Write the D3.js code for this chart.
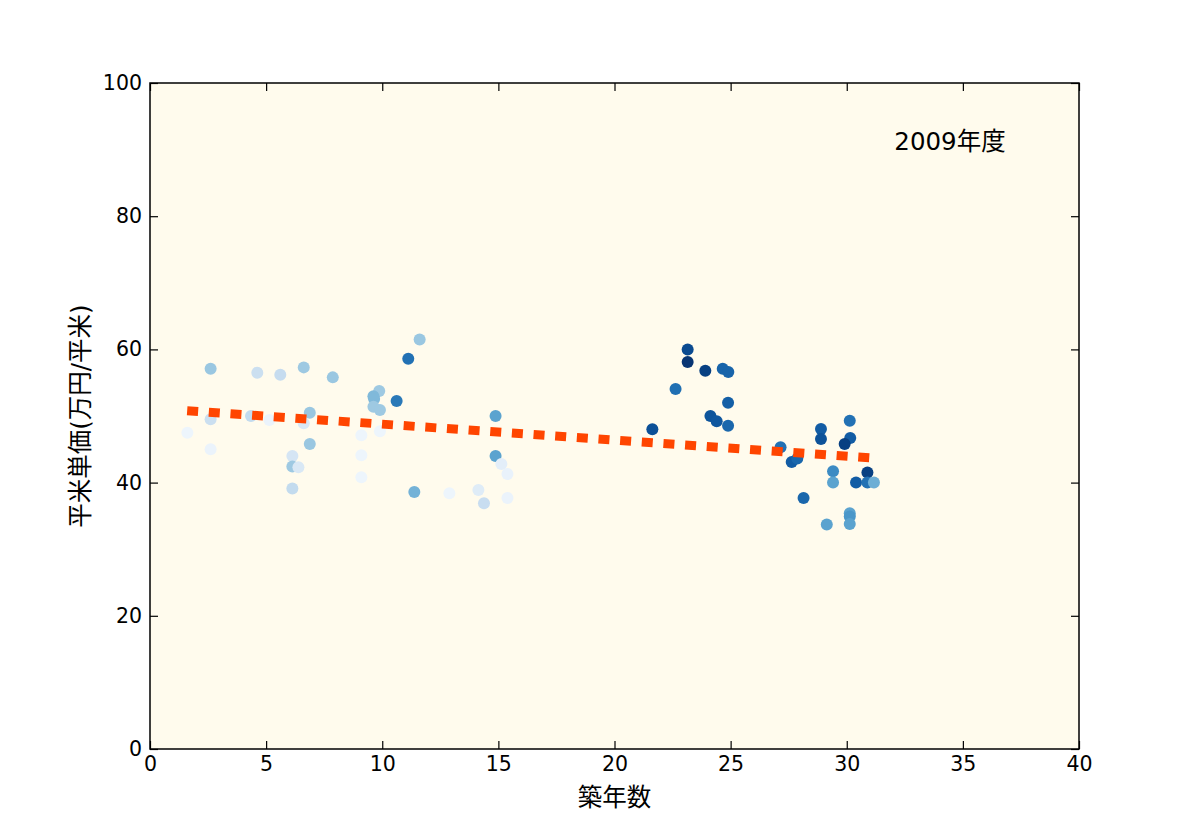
<!DOCTYPE html>
<html>
<head>
<meta charset="utf-8">
<script src="https://cdn.jsdelivr.net/npm/d3@7"></script>
<style>
  body { margin: 0; background: #fff; }
  svg { display: block; }
</style>
</head>
<body>
<div id="chart"></div>
<script>
// 築年数 (years since construction)
const ageYears = [
    2.61, 4.62, 5.61, 6.62, 7.87, 6.88, 2.61, 4.35, 5.14, 6.62,
    1.61, 2.61, 6.88, 6.13, 6.13, 6.39, 6.13, 11.61, 11.12, 9.87,
    9.62, 9.65, 10.62, 9.62, 9.9, 14.88, 9.1, 9.9, 9.1, 9.1,
    14.88, 15.13, 15.39, 11.38, 12.89, 14.14, 14.38, 15.39,
    23.15, 23.15, 23.91, 24.66, 24.9, 22.63, 24.89, 24.13, 24.4, 24.89,
    21.63, 27.15, 30.13, 28.89, 28.89, 30.15, 29.91, 27.63, 27.87, 29.41,
    29.41, 30.4, 30.89, 30.89, 31.17, 28.14, 30.13, 30.13, 30.13, 29.14
];
// 平米単価 (万円/平米)
const unitPrices = [
    57.1, 56.5, 56.2, 57.3, 55.8, 50.5, 49.5, 50.0, 49.4, 48.9,
    47.5, 45.0, 45.8, 44.0, 42.4, 42.3, 39.1, 61.5, 58.6, 53.75,
    52.95, 52.55, 52.25, 51.4, 50.9, 50.0, 47.1, 47.7, 44.1, 40.8,
    44.0, 42.8, 41.3, 38.6, 38.4, 38.9, 36.9, 37.7,
    60.0, 58.1, 56.8, 57.1, 56.6, 54.05, 52.0, 50.0, 49.2, 48.55,
    48.0, 45.3, 49.3, 48.05, 46.55, 46.7, 45.8, 43.1, 43.6, 41.7,
    40.0, 40.0, 41.5, 40.0, 40.0, 37.7, 35.4, 34.9, 33.8, 33.7
];
// colour level of each point on the Blues scale (0..1)
const colorLevels = [
    0.38, 0.22, 0.24, 0.37, 0.38, 0.38, 0.22, 0.25, 0.06, 0.15,
    0.05, 0.06, 0.38, 0.17, 0.37, 0.15, 0.25, 0.38, 0.75, 0.37,
    0.45, 0.45, 0.72, 0.37, 0.37, 0.55, 0.05, 0.05, 0.05, 0.05,
    0.55, 0.10, 0.07, 0.48, 0.05, 0.12, 0.23, 0.06,
    0.90, 0.98, 0.94, 0.80, 0.80, 0.76, 0.82, 0.86, 0.85, 0.79,
    0.88, 0.75, 0.75, 0.83, 0.87, 0.83, 0.94, 0.83, 0.79, 0.65,
    0.55, 0.83, 0.94, 0.75, 0.50, 0.79, 0.55, 0.60, 0.55, 0.55
];
// regression line end points
const trendX = [1.6, 31.1];
const trendY = [50.8, 43.7];

const xTicks = [0, 5, 10, 15, 20, 25, 30, 35, 40];
const yTicks = [0, 20, 40, 60, 80, 100];
const yearLabel = "2009年度";

const width = 1200;
const height = 833;
const marginTop = 83;
const marginRight = 121;
const marginBottom = 84;
const marginLeft = 150;
const fontFamily = "'DejaVu Sans', 'Noto Sans CJK JP', sans-serif";

const x = d3.scaleLinear()
    .domain([0, 40])
    .range([marginLeft, width - marginRight]);

const y = d3.scaleLinear()
    .domain([0, 100])
    .range([height - marginBottom, marginTop]);

const svg = d3.select("#chart").append("svg")
    .attr("width", width)
    .attr("height", height)
    .attr("viewBox", [0, 0, width, height])
    .attr("style", `font-family: ${fontFamily};`);

// fond du graphique
svg.append("rect")
    .attr("x", marginLeft)
    .attr("y", marginTop)
    .attr("width", width - marginRight - marginLeft)
    .attr("height", height - marginBottom - marginTop)
    .attr("fill", "#fffbed");

// points
const points = ageYears.map((a, i) => ({age: a, price: unitPrices[i], level: colorLevels[i]}));
svg.append("g")
    .selectAll("circle")
    .data(points)
    .join("circle")
    .attr("cx", d => x(d.age))
    .attr("cy", d => y(d.price))
    .attr("r", 6)
    .attr("fill", d => d3.interpolateBlues(d.level));

// ligne de tendance
svg.append("path")
    .datum(trendX.map((v, i) => [v, trendY[i]]))
    .attr("fill", "none")
    .attr("stroke", "#ff4500")
    .attr("stroke-width", 9)
    .attr("stroke-dasharray", "11,10.7")
    .attr("d", d3.line().x(d => x(d[0])).y(d => y(d[1])));

// axes : ticks vers l'intérieur sur les quatre côtés
const tickLen = 8;
svg.append("g")
    .attr("transform", `translate(0,${height - marginBottom})`)
    .call(d3.axisBottom(x).tickValues(xTicks).tickSize(-tickLen).tickPadding(7))
    .call(g => g.select(".domain").remove())
    .call(g => g.selectAll("text").attr("font-size", 20.5).attr("font-family", fontFamily).attr("fill", "#000"));

svg.append("g")
    .attr("transform", `translate(0,${marginTop})`)
    .call(d3.axisTop(x).tickValues(xTicks).tickSize(-tickLen).tickFormat(""))
    .call(g => g.select(".domain").remove());

svg.append("g")
    .attr("transform", `translate(${marginLeft},0)`)
    .call(d3.axisLeft(y).tickValues(yTicks).tickSize(-tickLen).tickPadding(8))
    .call(g => g.select(".domain").remove())
    .call(g => g.selectAll("text").attr("font-size", 20.5).attr("font-family", fontFamily).attr("fill", "#000"));

svg.append("g")
    .attr("transform", `translate(${width - marginRight},0)`)
    .call(d3.axisRight(y).tickValues(yTicks).tickSize(-tickLen).tickFormat(""))
    .call(g => g.select(".domain").remove());

svg.selectAll(".tick line").attr("stroke", "#000").attr("stroke-width", 1.2);

// cadre
svg.append("rect")
    .attr("x", marginLeft)
    .attr("y", marginTop)
    .attr("width", width - marginRight - marginLeft)
    .attr("height", height - marginBottom - marginTop)
    .attr("fill", "none")
    .attr("stroke", "#000")
    .attr("stroke-width", 1.5);

// libellés des axes
svg.append("text")
    .attr("x", (marginLeft + width - marginRight) / 2)
    .attr("y", 806)
    .attr("text-anchor", "middle")
    .attr("font-size", 24.5)
    .text("築年数");

svg.append("text")
    .attr("transform", `translate(89,${(marginTop + height - marginBottom) / 2}) rotate(-90)`)
    .attr("text-anchor", "middle")
    .attr("font-size", 24.5)
    .text("平米単価(万円/平米)");

// année
svg.append("text")
    .attr("x", x(32.05))
    .attr("y", y(90))
    .attr("font-size", 24.5)
    .text(yearLabel);
</script>
</body>
</html>
